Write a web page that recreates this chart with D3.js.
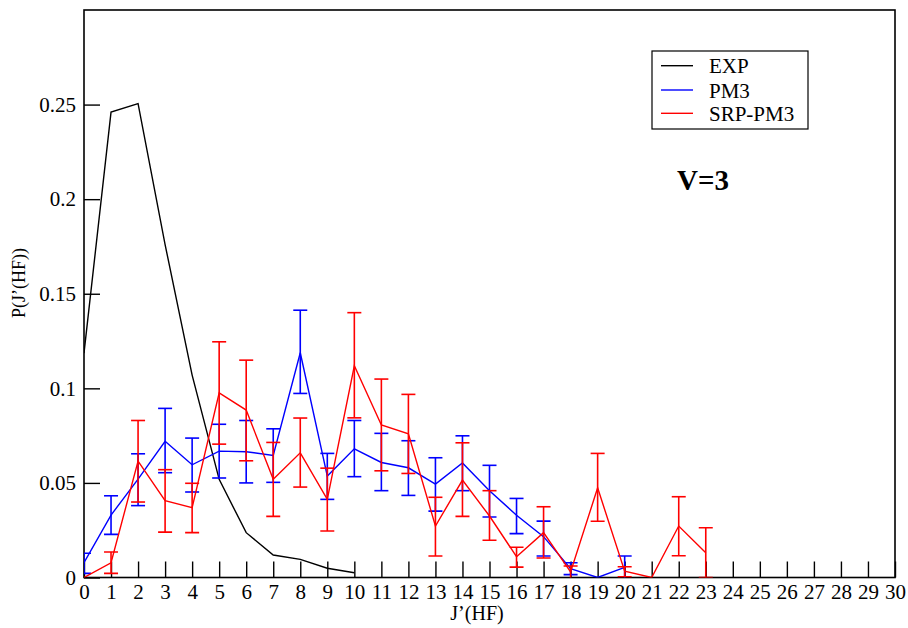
<!DOCTYPE html>
<html><head><meta charset="utf-8">
<script src="https://cdn.jsdelivr.net/npm/d3@7"></script>
<style>body{margin:0;background:#fff}svg{display:block}</style>
</head><body><svg id="c" width="908" height="628"></svg>
<script>
const xTicks = d3.range(0, 31);
const yTicks = [0, 0.05, 0.1, 0.15, 0.2, 0.25];
const yTickLabels = ["0", "0.05", "0.1", "0.15", "0.2", "0.25"];

const expJ = [0,1,2,3,4,5,6,7,8,9,10];
const expP = [0.1186,0.246,0.2505,0.176,0.107,0.0519,0.0237,0.0119,0.0096,0.0049,0.0025];

const pm3J = [0,1,2,3,4,5,6,7,8,9,10,11,12,13,14,15,16,17,18,19,20];
const pm3P = [0.0078,0.033,0.052,0.072,0.0596,0.0668,0.0665,0.0645,0.1188,0.0536,0.068,0.0608,0.058,0.0494,0.0605,0.0459,0.0329,0.0216,0.0047,0.0,0.0054];
const pm3Hi = [0.0128,0.0432,0.0654,0.0894,0.0737,0.081,0.083,0.0786,0.1413,0.0656,0.083,0.0762,0.0723,0.0633,0.0749,0.0593,0.0418,0.0298,0.0078,0.0,0.0114];
const pm3Lo = [0.0022,0.0228,0.038,0.0554,0.0452,0.0526,0.050,0.0503,0.0973,0.0413,0.0533,0.0459,0.0434,0.0351,0.0459,0.032,0.0232,0.0114,0.0015,0.0,-0.001];

const srpJ = [0,1,2,3,4,5,6,7,8,9,10,11,12,13,14,15,16,17,18,19,20,21,22,23];
const srpP = [0.0,0.0078,0.0615,0.0406,0.0369,0.0976,0.0885,0.0519,0.0659,0.0413,0.1119,0.0806,0.076,0.0272,0.0515,0.0325,0.011,0.0237,0.0029,0.0474,0.0033,0.0,0.0272,0.0131];
const srpHi = [0.0,0.0135,0.083,0.057,0.0498,0.1246,0.1149,0.0714,0.0843,0.0578,0.140,0.1049,0.0968,0.0424,0.0712,0.0459,0.016,0.0374,0.0061,0.0656,0.0057,0.0,0.0427,0.0263];
const srpLo = [0.0,0.0022,0.0399,0.024,0.0237,0.0705,0.0617,0.0323,0.0478,0.0246,0.0844,0.0564,0.055,0.0114,0.0323,0.0197,0.0055,0.0103,-0.001,0.0297,0.0004,0.0,0.0115,0.0];

const seriesNames = ["EXP", "PM3", "SRP-PM3"];
const seriesColors = ["#000000", "#0000ff", "#ff0000"];

const FONT = '"Liberation Serif"';
const L = 84, R = 895, T = 10, B = 577.5;
const svg = d3.select("#c").style("font-family", FONT);
const x = d3.scaleLinear().domain([0, 30]).range([L, R]);
const y = d3.scaleLinear().domain([0, 0.3]).range([B, T]);

svg.append("defs").append("clipPath").attr("id", "clip")
  .append("rect").attr("x", L).attr("y", T).attr("width", R - L).attr("height", B - T);

// x axis
const gx = svg.append("g").attr("transform", `translate(0,${B})`)
  .call(d3.axisBottom(x).tickValues(xTicks).tickFormat(d3.format("d")).tickSizeInner(-16).tickSizeOuter(0).tickPadding(8));
gx.attr("font-family", null).attr("font-size", null);
gx.select(".domain").remove();
gx.selectAll(".tick line").attr("stroke", "#000").attr("stroke-width", 1.4);
gx.selectAll(".tick text").style("font-family", FONT).style("font-size", "21px").attr("fill", "#000").attr("dy", "0.71em").attr("y", 7);

// y axis
const gy = svg.append("g").attr("transform", `translate(${L},0)`)
  .call(d3.axisLeft(y).tickValues(yTicks).tickFormat((d, i) => yTickLabels[i]).tickSizeInner(-16).tickSizeOuter(0).tickPadding(7));
gy.attr("font-family", null).attr("font-size", null);
gy.select(".domain").remove();
gy.selectAll(".tick line").attr("stroke", "#000").attr("stroke-width", 1.4);
gy.selectAll(".tick text").style("font-family", FONT).style("font-size", "21px").attr("fill", "#000").attr("x", -8);

// frame
svg.append("rect").attr("x", L).attr("y", T).attr("width", R - L).attr("height", B - T)
  .attr("fill", "none").attr("stroke", "#000").attr("stroke-width", 1.6);

const plot = svg.append("g").attr("clip-path", "url(#clip)");
const line = d3.line().x(d => x(d[0])).y(d => y(d[1]));

function drawErr(J, Lo, Hi, color) {
  const cap = 7;
  J.forEach((j, i) => {
    if (Hi[i] === Lo[i]) return;
    const g = plot.append("g").attr("stroke", color).attr("stroke-width", 1.6);
    g.append("line").attr("x1", x(j)).attr("x2", x(j)).attr("y1", y(Lo[i])).attr("y2", y(Hi[i]));
    g.append("line").attr("x1", x(j) - cap).attr("x2", x(j) + cap).attr("y1", y(Hi[i])).attr("y2", y(Hi[i]));
    g.append("line").attr("x1", x(j) - cap).attr("x2", x(j) + cap).attr("y1", y(Lo[i])).attr("y2", y(Lo[i]));
  });
}

plot.append("path").datum(expJ.map((j, i) => [j, expP[i]])).attr("d", line)
  .attr("fill", "none").attr("stroke", seriesColors[0]).attr("stroke-width", 1.4);
drawErr(pm3J, pm3Lo, pm3Hi, seriesColors[1]);
plot.append("path").datum(pm3J.map((j, i) => [j, pm3P[i]])).attr("d", line)
  .attr("fill", "none").attr("stroke", seriesColors[1]).attr("stroke-width", 1.4);
drawErr(srpJ, srpLo, srpHi, seriesColors[2]);
plot.append("path").datum(srpJ.map((j, i) => [j, srpP[i]])).attr("d", line)
  .attr("fill", "none").attr("stroke", seriesColors[2]).attr("stroke-width", 1.4);

// legend
svg.append("rect").attr("x", 652).attr("y", 51).attr("width", 156).attr("height", 78)
  .attr("fill", "#fff").attr("stroke", "#000").attr("stroke-width", 1.2);
const ly = [65.7, 90, 113.3];
seriesNames.forEach((n, i) => {
  svg.append("line").attr("x1", 661).attr("x2", 693).attr("y1", ly[i]).attr("y2", ly[i])
    .attr("stroke", seriesColors[i]).attr("stroke-width", 1.4);
  svg.append("text").style("font-family", FONT).style("font-size", "21px").attr("x", 709).attr("y", ly[i] + 7.5).attr("fill", "#000").text(n);
});

// annotation
svg.append("text").style("font-family", FONT).style("font-size", "29px").style("font-weight", "bold").attr("x", 677).attr("y", 190).text("V=3");

// axis labels
svg.append("text").style("font-family", FONT).style("font-size", "20px").attr("x", 477).attr("y", 620).attr("text-anchor", "middle").text("J\u2019(HF)");
svg.append("text").style("font-family", FONT).style("font-size", "18px").attr("transform", "translate(25,283) rotate(-90)").attr("text-anchor", "middle").text("P(J\u2019(HF))");
</script></body></html>
